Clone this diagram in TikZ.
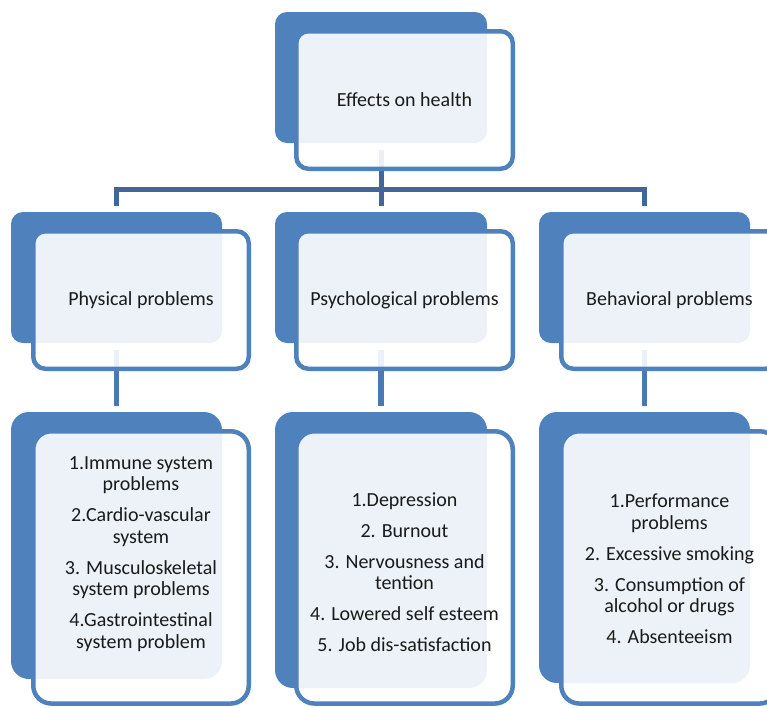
\documentclass[tikz,border=0pt]{standalone}
\usepackage{fontspec}
\setmainfont{Carlito}
\definecolor{accent}{HTML}{4F81BD}
\definecolor{connA}{HTML}{3F6799}
\definecolor{connB}{HTML}{4A78B1}
\definecolor{txt}{HTML}{1A1A1A}
\tikzset{
  backbox/.style={fill=accent, draw=none, rounded corners=#1, outer sep=0pt, inner sep=0pt},
  backbox/.default=12pt,
  frontbox/.style={fill=white, fill opacity=0.9, text opacity=1, draw=accent, line width=4.5pt,
    rounded corners=#1, outer sep=0pt, inner sep=0pt, text=txt,
    font=\fontsize{20}{21.5}\selectfont},
  frontbox/.default=12pt,
  listtext/.style={align=center, anchor=base, inner sep=0pt, text=txt,
    font=\fontsize{20}{21.5}\selectfont},
  busline/.style={draw=connA, line width=5pt, line join=miter},
  dropline/.style={draw=connB, line width=5.5pt},
}
\begin{document}
\begin{tikzpicture}[x=1pt,y=-1pt]
\useasboundingbox (0,0) rectangle (767,707);
\clip (0,0) rectangle (767,707);
\fill[white] (0,0) rectangle (767,707);

% back boxes
\node[backbox, minimum width=212pt, minimum height=131pt] (topB) at (381,77.5) {};
\node[backbox, minimum width=211pt, minimum height=131pt] (phyB) at (116.5,277.5) {};
\node[backbox, minimum width=212pt, minimum height=131pt] (psyB) at (381,277.5) {};
\node[backbox, minimum width=211pt, minimum height=131pt] (behB) at (644.5,277.5) {};
\node[backbox=18pt, minimum width=211pt, minimum height=267pt] (phyLB) at (116.5,545.5) {};
\node[backbox=18pt, minimum width=212pt, minimum height=276pt] (psyLB) at (381,550) {};
\node[backbox=18pt, minimum width=211pt, minimum height=271pt] (behLB) at (644.5,547.5) {};

% connectors
\coordinate (bus) at (0,189.5);
\draw[busline] ([yshift=-7pt]topB.south) -- (topB.south |- bus);
\draw[busline] ([yshift=6pt]phyB.north) -- (phyB.north |- bus) -- (behB.north |- bus) -- ([yshift=6pt]behB.north);
\draw[busline] (psyB.north |- bus) -- ([yshift=6pt]psyB.north);
\draw[dropline] ([yshift=-7pt]phyB.south) -- ([yshift=6pt]phyLB.north);
\draw[dropline] ([yshift=-7pt]psyB.south) -- ([yshift=6pt]psyLB.north);
\draw[dropline] ([yshift=-7pt]behB.south) -- ([yshift=6pt]behLB.north);

% front boxes
\node[frontbox, minimum width=216.5pt, minimum height=137.5pt] (topF) at (404.5,100) {Effects on health};
\node[frontbox, minimum width=215.5pt, minimum height=137.5pt] (phyF) at (141,300) {Physical problems};
\node[frontbox, minimum width=216.5pt, minimum height=137.5pt] (psyF) at (404.5,300) {Psychological problems};
\node[frontbox, minimum width=216.5pt, minimum height=137.5pt] (behF) at (669.5,300) {Behavioral problems};
\node[frontbox=18pt, minimum width=215.5pt, minimum height=272.25pt] (phyLF) at (141,567.4) {};
\node[frontbox=18pt, minimum width=216.5pt, minimum height=272.25pt] (psyLF) at (404.5,567.4) {};
\node[frontbox=18pt, minimum width=216.5pt, minimum height=272.25pt] (behLF) at (669.5,567.4) {};

% list texts (anchor base = baseline of last line)
\node[listtext] (phyT) at (141,648) {1.Immune system\\problems\\[9.5pt]2.Cardio-vascular\\system\\[9.5pt]3. Musculoskeletal\\system problems\\[9.5pt]4.Gastrointestinal\\system problem};
\node[listtext] (psyT) at (404.5,651.5) {1.Depression\\[9.5pt]2. Burnout\\[9.5pt]3. Nervousness and\\tention\\[9.5pt]4. Lowered self esteem\\[9.5pt]5. Job dis-satisfaction};
\node[listtext] (behT) at (669.5,643.7) {1.Performance\\problems\\[9.5pt]2. Excessive smoking\\[9.5pt]3. Consumption of\\alcohol or drugs\\[9.5pt]4. Absenteeism};
\end{tikzpicture}
\end{document}
